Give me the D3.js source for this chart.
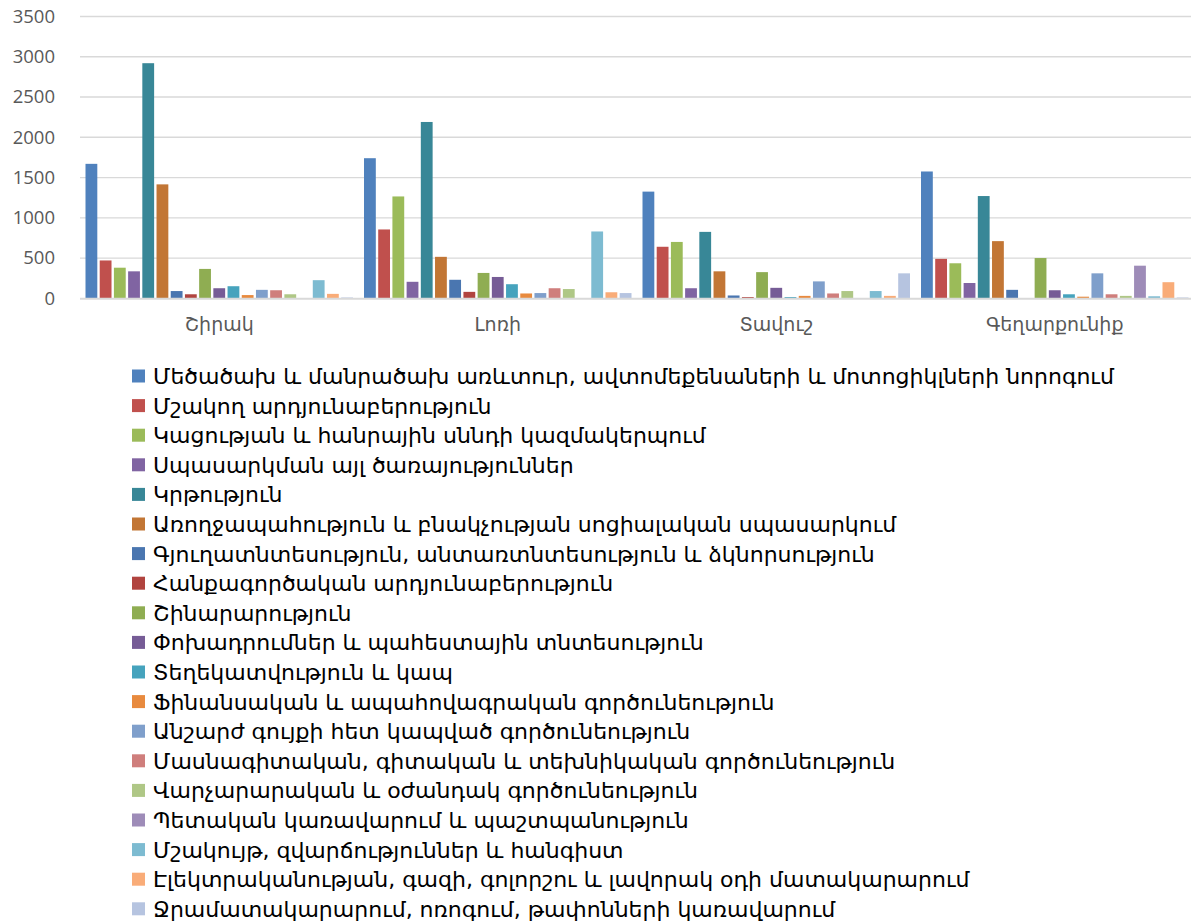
<!DOCTYPE html>
<html>
<head>
<meta charset="utf-8">
<script src="https://cdn.jsdelivr.net/npm/d3@7"></script>
<style>
  html, body { margin: 0; padding: 0; background: #fff; }
  svg { display: block; }
</style>
</head>
<body>
<svg id="chart" width="1191" height="922"></svg>
<script>
const categories = ["Շիրակ", "Լոռի", "Տավուշ", "Գեղարքունիք"];

const seriesNames = [
  "Մեծածախ և մանրածախ առևտուր, ավտոմեքենաների և մոտոցիկլների նորոգում",
  "Մշակող արդյունաբերություն",
  "Կացության և հանրային սննդի  կազմակերպում",
  "Սպասարկման այլ ծառայություններ",
  "Կրթություն",
  "Առողջապահություն և բնակչության սոցիալական սպասարկում",
  "Գյուղատնտեսություն, անտառտնտեսություն և ձկնորսություն",
  "Հանքագործական արդյունաբերություն",
  "Շինարարություն",
  "Փոխադրումներ և պահեստային տնտեսություն",
  "Տեղեկատվություն և կապ",
  "Ֆինանսական և ապահովագրական գործունեություն",
  "Անշարժ գույքի հետ կապված գործունեություն",
  "Մասնագիտական, գիտական և տեխնիկական գործունեություն",
  "Վարչարարական և օժանդակ գործունեություն",
  "Պետական կառավարում և պաշտպանություն",
  "Մշակույթ, զվարճություններ և հանգիստ",
  "Էլեկտրականության, գազի, գոլորշու և լավորակ օդի մատակարարում",
  "Ջրամատակարարում, ոռոգում, թափոնների կառավարում"
];

// values per series, in the order of categories
const s01 = [1670, 1740, 1325, 1575];
const s02 = [470, 855, 640, 490];
const s03 = [380, 1265, 700, 435];
const s04 = [335, 205, 125, 190];
const s05 = [2920, 2190, 825, 1270];
const s06 = [1415, 515, 335, 710];
const s07 = [90, 230, 35, 105];
const s08 = [50, 80, 15, 0];
const s09 = [365, 315, 325, 500];
const s10 = [125, 265, 130, 100];
const s11 = [150, 175, 15, 50];
const s12 = [40, 60, 30, 20];
const s13 = [105, 65, 210, 310];
const s14 = [100, 125, 60, 50];
const s15 = [50, 115, 90, 30];
const s16 = [0, 0, 0, 405];
const s17 = [225, 830, 90, 25];
const s18 = [55, 75, 30, 200];
const s19 = [10, 65, 310, 10];
const seriesValues = [s01, s02, s03, s04, s05, s06, s07, s08, s09, s10, s11, s12, s13, s14, s15, s16, s17, s18, s19];

const yTicks = [0, 500, 1000, 1500, 2000, 2500, 3000, 3500];

const colors = [
  "#4F81BD", "#C0504D", "#9BBB59", "#8064A2", "#388797", "#C27635",
  "#4A76B0", "#B1443F", "#8FAD52", "#765C96", "#46A3BD", "#E88A3E",
  "#7F9FCB", "#CF7E7C", "#AFC786", "#9E8CB8", "#7DBBD1", "#F9AC78",
  "#B6C4E0"
];

const svg = d3.select("#chart");
const plotLeft = 80, plotRight = 1194, plotTop = 16.5, plotBottom = 298.3;

const x0 = d3.scaleBand().domain(categories).range([plotLeft, plotRight]).padding(0);
const groupPad = 4.3;
const x1 = d3.scaleBand().domain(d3.range(seriesNames.length))
  .range([groupPad, x0.bandwidth() - groupPad]).padding(0);
const y = d3.scaleLinear().domain([0, 3500]).range([plotBottom, plotTop]);
const color = d3.scaleOrdinal().domain(d3.range(seriesNames.length)).range(colors);

// gridlines
svg.append("g")
  .selectAll("line")
  .data(yTicks.filter(d => d > 0))
  .join("line")
  .attr("x1", plotLeft).attr("x2", plotRight)
  .attr("y1", d => y(d)).attr("y2", d => y(d))
  .attr("stroke", "#d9d9d9").attr("stroke-width", 1.3);

// y axis labels
const yAxis = d3.axisLeft(y).tickValues(yTicks).tickFormat(d3.format("d")).tickSize(0).tickPadding(0);
const gy = svg.append("g").attr("transform", `translate(55,0)`).call(yAxis);
gy.select(".domain").remove();
gy.selectAll("text")
  .attr("fill", "#595959")
  .style("font-family", "'Open Sans', 'Noto Sans', sans-serif")
  .style("font-size", "18.5px");

// bars
const bw = x1.bandwidth();
const groups = svg.append("g")
  .selectAll("g")
  .data(categories)
  .join("g")
  .attr("transform", d => `translate(${x0(d)},0)`);

groups.selectAll("rect")
  .data((c, ci) => seriesValues.map((vals, si) => ({ si, v: vals[ci] })))
  .join("rect")
  .filter(d => d.v > 0)
  .attr("x", d => x1(d.si) + 1.2)
  .attr("width", bw - 2.4)
  .attr("y", d => y(d.v))
  .attr("height", d => y(0) - y(d.v))
  .attr("fill", d => color(d.si));

// baseline
svg.append("line")
  .attr("x1", plotLeft).attr("x2", plotRight)
  .attr("y1", y(0) + 0.5).attr("y2", y(0) + 0.5)
  .attr("stroke", "#d9d9d9").attr("stroke-width", 2);

// x axis labels
const xAxis = d3.axisBottom(x0).tickSize(0).tickPadding(0);
const gx = svg.append("g").attr("transform", `translate(0,${y(0) + 19})`).call(xAxis);
gx.select(".domain").remove();
gx.selectAll("text")
  .attr("fill", "#595959")
  .attr("dy", "0.71em")
  .style("font-family", "'DejaVu Sans', sans-serif")
  .style("font-size", "19px");

// legend
const legend = svg.append("g");
const legY0 = 376, legStep = 29.6;
const items = legend.selectAll("g")
  .data(seriesNames)
  .join("g")
  .attr("transform", (d, i) => `translate(132,${legY0 + i * legStep})`);
items.append("rect")
  .attr("x", 0).attr("y", -6.5)
  .attr("width", 13).attr("height", 13)
  .attr("fill", (d, i) => color(i));
items.append("text")
  .attr("x", 21).attr("y", 0)
  .attr("dy", "0.36em")
  .attr("fill", "#000")
  .style("font-family", "'DejaVu Sans', sans-serif")
  .style("font-size", "22px")
  .text(d => d);
</script>
</body>
</html>
